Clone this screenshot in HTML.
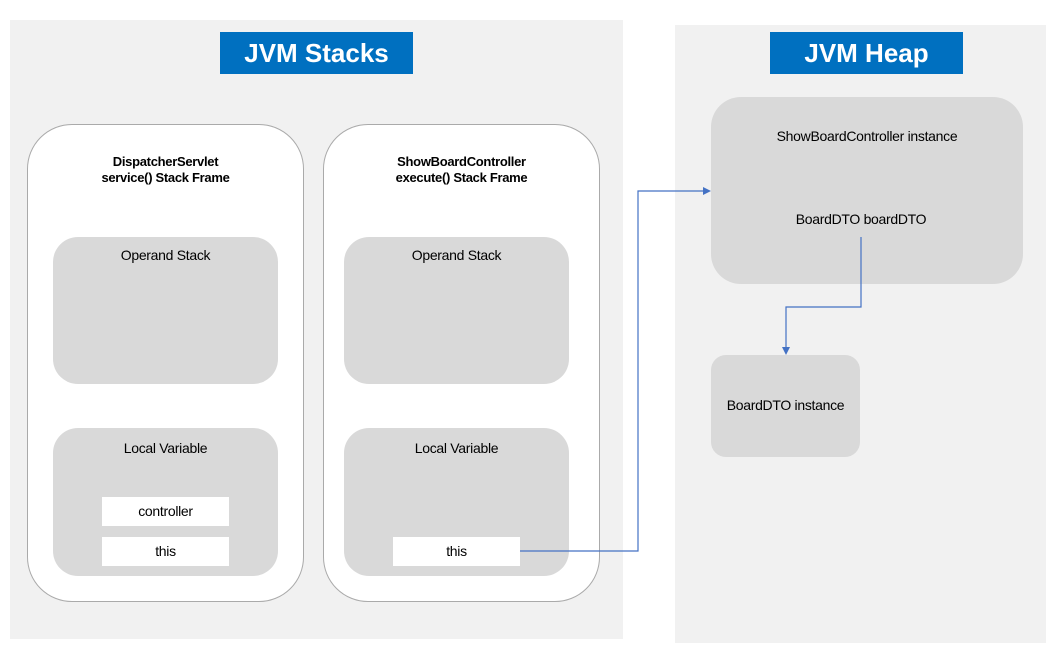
<!DOCTYPE html>
<html><head><meta charset="utf-8"><style>
body{margin:0;width:1062px;height:651px;background:#fff;position:relative;overflow:hidden;font-family:"Liberation Sans",sans-serif;}
div{position:absolute;box-sizing:border-box;}
.panel{background:#f1f1f1;}
.title{background:#0070c0;color:#fff;font-weight:bold;font-size:26px;text-align:center;line-height:42px;}
.frame{background:#fff;border:1px solid #aaa;border-radius:45px;}
.g{background:#d9d9d9;}
.t{font-size:14px;color:#000;text-align:center;white-space:nowrap;letter-spacing:-0.3px;}
.w{background:#fff;font-size:14px;text-align:center;line-height:29px;letter-spacing:-0.3px;}
</style></head><body>
<div class="panel" style="left:10px;top:20px;width:613px;height:619px"></div>
<div class="panel" style="left:675px;top:25px;width:371px;height:618px"></div>
<div class="title" style="left:220px;top:32px;width:193px;height:42px">JVM Stacks</div>
<div class="title" style="left:770px;top:32px;width:193px;height:42px">JVM Heap</div>

<div class="frame" style="left:27px;top:124px;width:277px;height:478px"></div>
<div class="frame" style="left:323px;top:124px;width:277px;height:478px"></div>
<div class="t" style="left:27px;top:154px;width:277px;font-size:13px;font-weight:bold;line-height:16px">DispatcherServlet<br>service() Stack Frame</div>
<div class="t" style="left:323px;top:154px;width:277px;font-size:13px;font-weight:bold;line-height:16px">ShowBoardController<br>execute() Stack Frame</div>

<div class="g" style="left:53px;top:237px;width:225px;height:147px;border-radius:25px"></div>
<div class="g" style="left:344px;top:237px;width:225px;height:147px;border-radius:25px"></div>
<div class="t" style="left:53px;top:247px;width:225px">Operand Stack</div>
<div class="t" style="left:344px;top:247px;width:225px">Operand Stack</div>

<div class="g" style="left:53px;top:428px;width:225px;height:148px;border-radius:25px"></div>
<div class="g" style="left:344px;top:428px;width:225px;height:148px;border-radius:25px"></div>
<div class="t" style="left:53px;top:440px;width:225px">Local Variable</div>
<div class="t" style="left:344px;top:440px;width:225px">Local Variable</div>
<div class="w" style="left:102px;top:497px;width:127px;height:29px">controller</div>
<div class="w" style="left:102px;top:537px;width:127px;height:29px">this</div>
<div class="w" style="left:393px;top:537px;width:127px;height:29px">this</div>

<div class="g" style="left:711px;top:97px;width:312px;height:187px;border-radius:30px"></div>
<div class="t" style="left:711px;top:128px;width:312px">ShowBoardController instance</div>
<div class="t" style="left:711px;top:211px;width:300px">BoardDTO boardDTO</div>
<div class="g" style="left:711px;top:355px;width:149px;height:102px;border-radius:15px"></div>
<div class="t" style="left:711px;top:397px;width:149px">BoardDTO instance</div>

<svg style="position:absolute;left:0;top:0" width="1062" height="651">
<polyline points="520,551 638,551 638,191 704,191" fill="none" stroke="#4472c4" stroke-width="1.2"/>
<polygon points="711,191 703,187 703,195" fill="#4472c4"/>
<polyline points="861,237 861,307 786,307 786,348" fill="none" stroke="#4472c4" stroke-width="1.2"/>
<polygon points="786,355 782,347 790,347" fill="#4472c4"/>
</svg>
</body></html>
